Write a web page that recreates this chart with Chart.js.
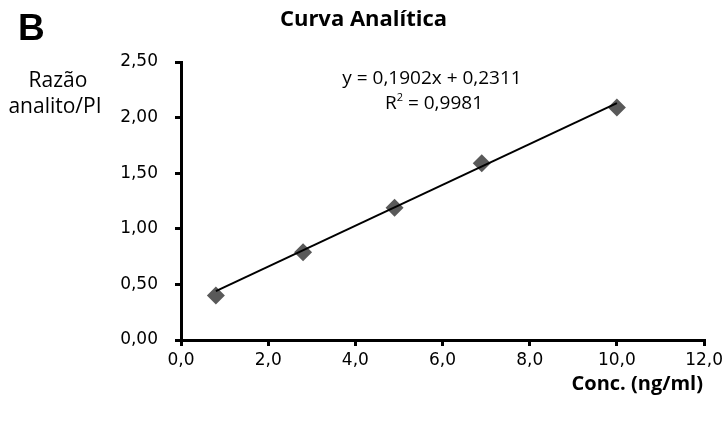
<!DOCTYPE html>
<html lang="pt">
<head>
  <meta charset="UTF-8">
  <title>Curva Analítica</title>
  <style>
    body, html {
      margin: 0;
      padding: 0;
      background-color: #fff;
    }
    .wrap {
      position: relative;
      width: 727px;
      height: 423px;
    }
  </style>
  <script src="https://cdn.jsdelivr.net/npm/chart.js"></script>
</head>
<body>
  <div class="wrap">
    <canvas id="curva" width="727" height="423"></canvas>
  </div>

  <script>
    // calibration points (conc. ng/ml vs razão analito/PI)
    const concValues = [0.8, 2.8, 4.9, 6.9, 10.0];
    const ratioValues = [0.40, 0.79, 1.19, 1.59, 2.09];
    // trendline ends
    const trendX = [0.8, 10.0];
    const trendY = [0.44, 2.13];
    const xTicks = [0, 2, 4, 6, 8, 10, 12];
    const yTicks = [0, 0.5, 1, 1.5, 2, 2.5];

    const toPoints = (xs, ys) => xs.map((x, i) => ({ x: x, y: ys[i] }));
    const comma = (v, d) => v.toFixed(d).replace('.', ',');

    const TXT = '"Open Sans", sans-serif';

    // extra texts: panel letter, horizontal y title, equation, x title
    const labelsPlugin = {
      id: 'labels',
      afterDraw(chart) {
        const ctx = chart.ctx;
        ctx.save();
        ctx.fillStyle = '#000';
        ctx.textBaseline = 'alphabetic';

        ctx.textAlign = 'left';
        ctx.font = 'bold 37px "Liberation Sans"';
        ctx.fillText('B', 18, 40);

        ctx.textAlign = 'center';
        ctx.font = '21px ' + TXT;
        ctx.fillText('Razão', 58, 87);
        ctx.fillText('analito/PI', 55, 113);

        ctx.font = '19px ' + TXT;
        ctx.fillText('y = 0,1902x + 0,2311', 432, 84);
        // R² with superscript
        const rest = ' = 0,9981';
        const wR = ctx.measureText('R').width;
        const wRest = ctx.measureText(rest).width;
        ctx.font = '11px ' + TXT;
        const w2 = ctx.measureText('2').width;
        let x0 = 434 - (wR + w2 + wRest) / 2;
        ctx.textAlign = 'left';
        ctx.fillText('2', x0 + wR, 101);
        ctx.font = '19px ' + TXT;
        ctx.fillText('R', x0, 109);
        ctx.fillText(rest, x0 + wR + w2, 109);

        ctx.textAlign = 'right';
        ctx.font = 'bold 20px ' + TXT;
        ctx.fillText('Conc. (ng/ml)', 703, 390);
        ctx.restore();
      }
    };

    const axisGrid = {
      drawOnChartArea: false,
      drawTicks: true,
      tickLength: 6,
      color: '#000',
      lineWidth: 3
    };

    const tickFont = { family: 'DejaVu Sans', size: 17 };

    new Chart(document.getElementById('curva'), {
      type: 'scatter',
      data: {
        datasets: [
          {
            type: 'line',
            data: toPoints(trendX, trendY),
            borderColor: '#000',
            borderWidth: 2,
            pointRadius: 0,
            fill: false
          },
          {
            data: toPoints(concValues, ratioValues),
            pointStyle: 'rectRot',
            pointRadius: 9,
            backgroundColor: '#595959',
            borderColor: '#595959',
            borderWidth: 0
          }
        ]
      },
      options: {
        responsive: false,
        animation: false,
        layout: { padding: { top: 0, right: 21, left: 21, bottom: 0 } },
        plugins: {
          legend: { display: false },
          tooltip: { enabled: false },
          title: {
            display: true,
            text: 'Curva Analítica',
            color: '#000',
            font: { family: TXT, size: 22, weight: 'bold' },
            padding: { top: 7, bottom: 28.6 }
          }
        },
        scales: {
          x: {
            type: 'linear',
            min: 0,
            max: 12,
            afterBuildTicks: s => { s.ticks = xTicks.map(v => ({ value: v })); },
            afterFit: s => { s.height = 83; },
            ticks: {
              color: '#000',
              padding: 4,
              font: tickFont,
              callback: v => comma(v, 1)
            },
            grid: axisGrid,
            border: { color: '#000', width: 3 }
          },
          y: {
            type: 'linear',
            min: 0,
            max: 2.5,
            afterBuildTicks: s => { s.ticks = yTicks.map(v => ({ value: v })); },
            afterFit: s => { s.width = 160; },
            ticks: {
              color: '#000',
              padding: 17,
              font: tickFont,
              callback: v => comma(v, 2)
            },
            grid: axisGrid,
            border: { color: '#000', width: 3 }
          }
        }
      },
      plugins: [labelsPlugin]
    });
  </script>
</body>
</html>
